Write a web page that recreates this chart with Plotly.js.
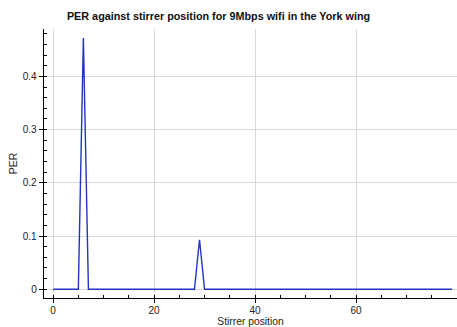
<!DOCTYPE html>
<html>
<head>
<meta charset="utf-8">
<script src="https://cdn.plot.ly/plotly-3.0.1.min.js"></script>
<style>html,body{margin:0;padding:0;background:#fff;}#chart{width:457px;height:327px;}</style>
</head>
<body>
<div id="chart"></div>
<script>
// Stirrer positions 0..79
const stirrerPosition = [
  0,1,2,3,4,5,6,7,8,9,10,11,12,13,14,15,16,17,18,19,
  20,21,22,23,24,25,26,27,28,29,30,31,32,33,34,35,36,37,38,39,
  40,41,42,43,44,45,46,47,48,49,50,51,52,53,54,55,56,57,58,59,
  60,61,62,63,64,65,66,67,68,69,70,71,72,73,74,75,76,77,78,79
];
const perValues = [
  0,0,0,0,0,0,0.472,0,0,0,0,0,0,0,0,0,0,0,0,0,
  0,0,0,0,0,0,0,0,0,0.093,0,0,0,0,0,0,0,0,0,0,
  0,0,0,0,0,0,0,0,0,0,0,0,0,0,0,0,0,0,0,0,
  0,0,0,0,0,0,0,0,0,0,0,0,0,0,0,0,0,0,0,0
];
const xTickVals = [0, 20, 40, 60];
const yTickVals = [0, 0.1, 0.2, 0.3, 0.4];
const yTickText = ['0', '0.1', '0.2', '0.3', '0.4'];

const font = 'Liberation Sans, Arial, Helvetica, sans-serif';

Plotly.newPlot('chart', [{
  x: stirrerPosition,
  y: perValues,
  type: 'scatter',
  mode: 'lines',
  line: {color: '#2335c0', width: 1.4},
  hoverinfo: 'none'
}], {
  width: 457, height: 327,
  margin: {l: 44, r: 0, t: 29, b: 29},
  paper_bgcolor: '#fff', plot_bgcolor: '#fff',
  showlegend: false,
  font: {family: font, size: 10, color: '#222'},
  title: {
    text: '<b>PER against stirrer position for 9Mbps wifi in the York wing</b>',
    font: {family: font, size: 10.8, color: '#111'},
    x: 218.5/457, xanchor: 'center', xref: 'container',
    y: 1 - 16.5/327, yanchor: 'middle', yref: 'container'
  },
  xaxis: {
    range: [-1.8, 80],
    tickmode: 'array', tickvals: xTickVals,
    ticks: 'outside', ticklen: 4, tickwidth: 1, tickcolor: '#000',
    ticklabelstandoff: -1,
    showline: true, linecolor: '#000', linewidth: 1.3,
    showgrid: true, gridcolor: '#d8d8d8', gridwidth: 1,
    zeroline: false,
    minor: {dtick: 5, tick0: 0, ticks: 'inside', ticklen: 3, tickcolor: '#000', showgrid: false},
    tickfont: {family: font, size: 10, color: '#222'},
    title: {text: 'Stirrer position', font: {family: font, size: 10.3, color: '#222'}, standoff: 4}
  },
  yaxis: {
    range: [-0.0165, 0.489],
    tickmode: 'array', tickvals: yTickVals, ticktext: yTickText,
    ticks: 'outside', ticklen: 4, tickwidth: 1, tickcolor: '#000',
    showline: true, linecolor: '#000', linewidth: 1.3,
    showgrid: true, gridcolor: '#d8d8d8', gridwidth: 1,
    zeroline: false,
    minor: {dtick: 0.02, tick0: 0, ticks: 'inside', ticklen: 3, tickcolor: '#000', showgrid: false},
    tickfont: {family: font, size: 10, color: '#222'},
    title: {text: 'PER', font: {family: font, size: 10.5, color: '#222'}, standoff: 3}
  }
}, {displayModeBar: false, staticPlot: true});
</script>
</body>
</html>
